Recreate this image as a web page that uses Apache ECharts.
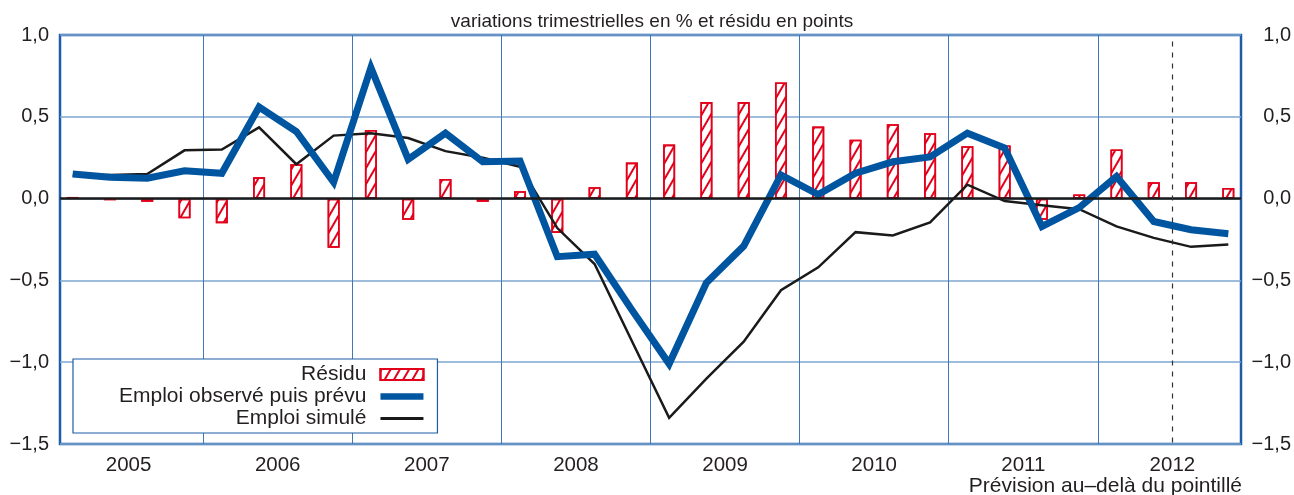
<!DOCTYPE html>
<html>
<head>
<meta charset="utf-8">
<script src="https://cdn.jsdelivr.net/npm/echarts@6/dist/echarts.min.js"></script>
<style>
  html, body { margin: 0; padding: 0; background: #fff; }
  #chart { width: 1294px; height: 495px; }
</style>
</head>
<body>
<div id="chart"></div>
<script>
// trimestres 2005T1 .. 2012T4 (index 0..31)
const annees = ["2005", "2006", "2007", "2008", "2009", "2010", "2011", "2012"];
const yTicks = [-1.5, -1.0, -0.5, 0, 0.5, 1.0];

const residu = [0.01, -0.01, -0.02, -0.12, -0.15, 0.13, 0.21, -0.30,
  0.42, -0.13, 0.12, -0.02, 0.045, -0.21, 0.07, 0.22,
  0.33, 0.59, 0.59, 0.71, 0.44, 0.36, 0.455, 0.40,
  0.32, 0.325, -0.13, 0.025, 0.30, 0.10, 0.10, 0.065];

const emploiObserve = [0.15, 0.13, 0.125, 0.17, 0.155, 0.56, 0.41, 0.10,
  0.80, 0.24, 0.40, 0.225, 0.23, -0.355, -0.34, -0.68,
  -1.01, -0.515, -0.29, 0.145, 0.025, 0.155, 0.225, 0.255,
  0.40, 0.31, -0.17, -0.055, 0.135, -0.14, -0.19, -0.215];

const emploiSimule = [0.14, 0.145, 0.15, 0.295, 0.30, 0.435, 0.21, 0.385,
  0.40, 0.37, 0.29, 0.25, 0.195, -0.18, -0.40, -0.87,
  -1.34, -1.10, -0.875, -0.56, -0.42, -0.205, -0.225, -0.145,
  0.085, -0.015, -0.04, -0.065, -0.17, -0.24, -0.295, -0.28];

const debutPrevision = 29.5; // pointillé : entre 2012T2 et 2012T3

const FONT = "Liberation Sans, Arial, Helvetica, sans-serif";
const TEXT_COLOR = "#231f20";
const BLUE = "#0055a0";
const FRAME = "#1f5ca8";
const GRID_H = "#7ea6d0";
const GRID_V = "#3f78b8";
const RED = "#e2001a";
const BLACK = "#1a1a1a";

const yearMid = annees.map((a, i) => i * 4 + 1.5);
const yearBound = annees.slice(1).map((a, i) => i * 4 + 3.5);
const pairs = arr => arr.map((v, i) => [i, v]);

const fmt = v => {
  const s = Math.abs(v).toFixed(1).replace(".", ",");
  return v < 0 ? "\u2212" + s : s;
};

const chart = echarts.init(document.getElementById("chart"), null, { renderer: "canvas" });

const yAxisBase = {
  type: "value",
  min: yTicks[0],
  max: yTicks[yTicks.length - 1],
  interval: 0.5,
  axisLine: { show: false },
  axisTick: { show: false },
  axisLabel: {
    color: TEXT_COLOR,
    fontFamily: FONT,
    fontSize: 20,
    formatter: fmt
  }
};

const option = {
  animation: false,
  backgroundColor: "#fff",
  grid: {
    left: 60,
    top: 35,
    right: 51,
    bottom: 51,
    show: true,
    borderColor: FRAME,
    borderWidth: 2.5,
    containLabel: false
  },
  xAxis: {
    type: "value",
    min: -0.34,
    max: 31.34,
    axisLine: { show: false },
    axisTick: { show: false, customValues: yearBound },
    splitLine: { show: true, lineStyle: { color: GRID_V, width: 1 } },
    axisLabel: {
      customValues: yearMid,
      margin: 11,
      color: TEXT_COLOR,
      fontFamily: FONT,
      fontSize: 20.5,
      formatter: v => annees[Math.round((v - 1.5) / 4)]
    }
  },
  yAxis: [
    Object.assign({}, yAxisBase, {
      position: "left",
      splitLine: { show: true, lineStyle: { color: GRID_H, width: 1.5 } },
      axisLabel: Object.assign({}, yAxisBase.axisLabel, { margin: 11 })
    }),
    Object.assign({}, yAxisBase, {
      position: "right",
      splitLine: { show: false },
      axisLabel: Object.assign({}, yAxisBase.axisLabel, { margin: 50, align: "right" })
    })
  ],
  legend: {
    show: true,
    orient: "vertical",
    left: 73,
    top: 359,
    align: "right",
    backgroundColor: "#fff",
    borderColor: FRAME,
    borderWidth: 1.2,
    padding: [5, 13, 4, 46],
    itemGap: 1,
    itemWidth: 43,
    itemHeight: 11,
    textStyle: {
      color: TEXT_COLOR,
      fontFamily: FONT,
      fontSize: 21,
      lineHeight: 21,
      padding: [0, 9, 0, 0]
    },
    data: [
      { name: "Résidu", icon: "rect" },
      {
        name: "Emploi observé puis prévu",
        icon: "path://M0,0H43V6.5H0Z",
        itemStyle: { color: BLUE, borderWidth: 0 }
      },
      {
        name: "Emploi simulé",
        icon: "path://M0,0H43V2.8H0Z",
        itemStyle: { color: BLACK, borderWidth: 0 }
      }
    ]
  },
  graphic: [
    {
      type: "text",
      x: 652,
      y: 22,
      style: {
        text: "variations trimestrielles en % et résidu en points",
        fill: TEXT_COLOR,
        font: "19px " + FONT,
        align: "center",
        verticalAlign: "middle"
      }
    },
    {
      type: "text",
      x: 1242,
      y: 486,
      style: {
        text: "Prévision au–delà du pointillé",
        fill: TEXT_COLOR,
        font: "21px " + FONT,
        align: "right",
        verticalAlign: "middle"
      }
    }
  ],
  series: [
    {
      name: "Résidu",
      type: "bar",
      barWidth: 12,
      data: pairs(residu),
      itemStyle: {
        color: "#fff",
        borderColor: RED,
        borderWidth: 1.6,
        decal: {
          symbol: "rect",
          symbolSize: 1,
          dashArrayX: [1, 0],
          dashArrayY: [1.2, 6],
          rotation: -Math.PI / 3,
          color: RED
        }
      },
      markLine: {
        silent: true,
        symbol: "none",
        label: { show: false },
        lineStyle: { color: BLACK, width: 2.5, type: "solid" },
        data: [{ yAxis: 0 }]
      },
      z: 2
    },
    {
      name: "Emploi simulé",
      type: "line",
      data: pairs(emploiSimule),
      symbol: "none",
      lineStyle: { color: BLACK, width: 2.5, join: "miter" },
      itemStyle: { color: BLACK },
      markLine: {
        silent: true,
        symbol: "none",
        label: { show: false },
        lineStyle: { color: "#333", width: 1.2, type: [5, 6] },
        data: [[{ coord: [debutPrevision, 0.96] }, { coord: [debutPrevision, -1.5] }]]
      },
      z: 3
    },
    {
      name: "Emploi observé puis prévu",
      type: "line",
      data: pairs(emploiObserve),
      symbol: "none",
      lineStyle: { color: BLUE, width: 7, join: "miter", miterLimit: 10 },
      itemStyle: { color: BLUE },
      z: 4
    }
  ]
};

chart.setOption(option);
</script>
</body>
</html>
